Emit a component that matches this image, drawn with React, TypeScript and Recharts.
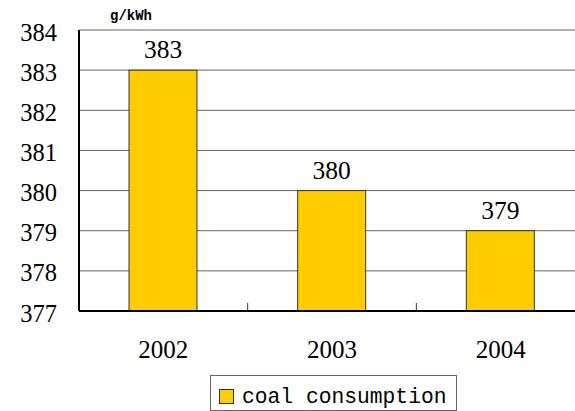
import { BarChart, Bar, XAxis, YAxis, CartesianGrid, Legend, LabelList } from 'recharts';

// Standard coal consumption of power supply, g/kWh
const years = ['2002', '2003', '2004'];
const coal = [383, 380, 379];
const yTicks = [377, 378, 379, 380, 381, 382, 383, 384];
const seriesName = 'coal consumption';

const data = years.map((year, i) => ({ year, coal: coal[i] }));

const CHART_W = 586;
const CHART_H = 411;
const Y_AXIS_W = 79;
const MARGIN = { top: 30, right: 1, left: 0, bottom: 0 };
const BAND = (CHART_W - Y_AXIS_W - MARGIN.right - MARGIN.left) / years.length;

const BAR_FILL = '#FFCC00';
const NUM_FONT = '"Liberation Serif"';
const MONO_FONT = '"Liberation Mono"';
const numStyle = { fontFamily: NUM_FONT, fontSize: 25, fill: '#000' };

// year label plus the small divider tick between categories
const YearTick = ({ x, y, payload, index }: any) => (
  <g>
    <text x={x} y={y + 38} textAnchor="middle" dominantBaseline="central" style={numStyle}>
      {payload.value}
    </text>
    {index < years.length - 1 && (
      <line x1={x + BAND / 2} x2={x + BAND / 2} y1={y - 8} y2={y} stroke="#333" />
    )}
  </g>
);

const ValueTick = ({ x, y, payload }: any) => (
  <text x={x} y={y + 2} textAnchor="end" dominantBaseline="central"
    style={{ ...numStyle, fontSize: 24.5 }}>
    {payload.value}
  </text>
);

const LegendBox = () => (
  <div style={{
    position: 'relative', boxSizing: 'border-box',
    width: 247, height: 36, border: '1px solid #666', background: '#fff',
  }}>
    <span style={{
      position: 'absolute', left: 8, top: 13, width: 13, height: 13,
      background: BAR_FILL, border: '1px solid #333',
    }} />
    <span style={{
      position: 'absolute', left: 31, top: 11, whiteSpace: 'nowrap',
      fontFamily: MONO_FONT, fontSize: 21.3, lineHeight: 1, color: '#000',
    }}>
      {seriesName}
    </span>
  </div>
);

export default function App() {
  return (
    <div style={{ position: 'absolute', left: 0, top: 0, width: 575, height: 411, overflow: 'hidden', background: '#fff' }}>
      <div style={{
        position: 'absolute', left: 110, top: 8, fontFamily: MONO_FONT,
        fontSize: 14, fontWeight: 'bold', color: '#000',
      }}>
        g/kWh
      </div>
      <BarChart width={CHART_W} height={CHART_H} data={data} margin={MARGIN}>
        <CartesianGrid vertical={false} stroke="#666" />
        <XAxis
          dataKey="year"
          height={100}
          axisLine={{ stroke: '#000', strokeWidth: 2 }}
          tickLine={false}
          tickSize={0}
          tickMargin={0}
          tick={<YearTick />}
        />
        <YAxis
          width={Y_AXIS_W}
          domain={[377, 384]}
          ticks={yTicks}
          interval={0}
          axisLine={{ stroke: '#000', strokeWidth: 2 }}
          tickLine={false}
          tickSize={0}
          tickMargin={22}
          tick={<ValueTick />}
        />
        <Legend
          layout="horizontal"
          verticalAlign="middle"
          align="center"
          wrapperStyle={{ left: 210, top: 375, width: 'auto' }}
          content={<LegendBox />}
        />
        <Bar dataKey="coal" name={seriesName} fill={BAR_FILL} stroke="#333" strokeWidth={1}
          barSize={68} isAnimationActive={false}>
          <LabelList dataKey="coal" position="top" offset={12}
            style={{ ...numStyle, fontSize: 25.5 }} />
        </Bar>
      </BarChart>
    </div>
  );
}
